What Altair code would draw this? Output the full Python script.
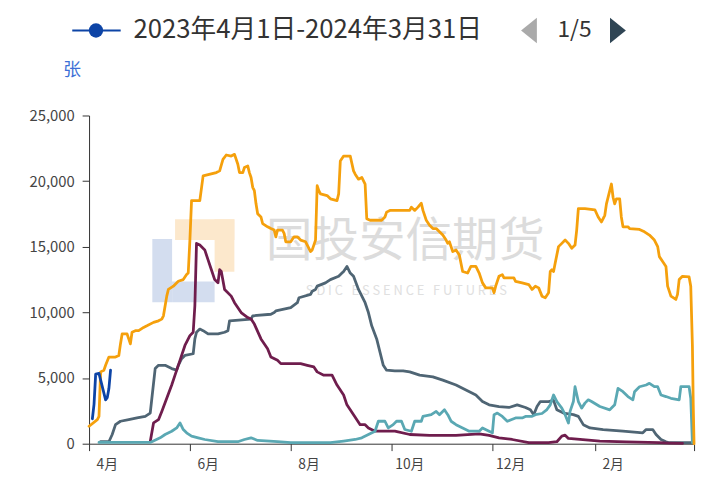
import altair as alt
import pandas as pd

FONT = "Noto Sans CJK SC"

# x axis: days since 1 April
TICK_DAYS = [0, 61, 122, 183, 244, 306, 366]
TICK_LABELS = ["4月", "6月", "8月", "10月", "12月", "2月", ""]
Y_TICKS = [0, 5000, 10000, 15000, 20000, 25000]

SERIES_NAMES = [
    "2023年4月1日-2024年3月31日",
    "2022年4月1日-2023年3月31日",
    "2021年4月1日-2022年3月31日",
    "2020年4月1日-2021年3月31日",
    "2019年4月1日-2020年3月31日",
]
SERIES_COLORS = ["#0d44a6", "#f5a00c", "#4f6574", "#6f1d4d", "#5aa8b3"]

blue_days = [2, 3, 4, 6, 10, 11, 12, 13]
blue_vals = [1900, 3000, 5300, 5350, 3340, 3500, 4200, 5600]

orange_days = [0, 5, 6, 7, 9, 10, 12, 16, 18, 19, 20, 23, 24, 25, 26, 28, 30, 33, 35, 39,
               42, 44, 45, 46, 47, 48, 51, 54, 57, 59, 60, 61, 62, 67, 69, 77, 79, 81, 83, 86,
               88, 90, 91, 93, 94, 96, 97, 98, 99, 100, 101, 102, 104, 105, 108, 110, 112, 113, 114, 117,
               118, 119, 122, 124, 126, 128, 131, 132, 134, 135, 137, 138, 139, 140, 144, 146, 150, 151, 152, 154,
               158, 160, 161, 163, 165, 167, 168, 170, 177, 179, 180, 182, 194, 195, 197, 199, 201, 202, 204, 206,
               208, 210, 212, 214, 216, 217, 218, 219, 220, 222, 224, 226, 229, 231, 234, 236, 238, 240, 244, 245,
               246, 248, 250, 251, 257, 258, 262, 266, 268, 270, 272, 274, 276, 278, 279, 280, 281, 282, 284, 286,
               288, 290, 292, 294, 295, 296, 300, 306, 308, 310, 312, 313, 315, 316, 317, 318, 319, 321, 322, 323,
               326, 327, 333, 336, 339, 342, 344, 345, 347, 349, 350, 352, 355, 356, 357, 359, 363, 364, 365, 365.5,
               366]
orange_vals = [1330, 1830, 2080, 5470, 5600, 5970, 6600, 6600, 6720, 7600, 8360, 8360, 7980, 7600, 8490, 8610, 8610, 8860, 8980, 9240,
               9360, 9490, 9740, 10490, 11240, 11750, 12000, 12370, 12500, 12880, 13000, 15510, 18520, 18520, 20400, 20650, 20780, 21660, 21990, 21910,
               22040, 21290, 20650, 20650, 21040, 21160, 20650, 20280, 19530, 19280, 18270, 17520, 17270, 16770, 16520, 16390, 16270, 15760, 16270, 16270,
               16020, 15380, 15380, 15760, 15760, 15510, 15380, 15130, 14630, 14760, 15510, 19650, 19280, 19030, 18900, 18650, 18520, 19030, 21540, 21910,
               21910, 20780, 20530, 20150, 20280, 19780, 17140, 17020, 17020, 17270, 17640, 17770, 17770, 18020, 17770, 18020, 18320, 17770, 17020, 16640,
               16390, 16390, 16140, 15890, 15510, 15260, 15380, 15010, 14630, 14760, 14380, 13120, 13000, 13500, 13500, 13000, 12250, 11870, 11870, 11500,
               12000, 12750, 12880, 12630, 12630, 12370, 12250, 12120, 11750, 12000, 11870, 11240, 11120, 11500, 13120, 13250, 13120, 13760, 15010, 15260,
               15510, 15260, 14880, 15130, 16270, 17900, 17900, 17820, 17270, 16890, 17400, 18270, 19280, 19780, 18770, 18270, 18650, 18650, 17270, 16520,
               16520, 16390, 16320, 16140, 15890, 15510, 15010, 14250, 13880, 13500, 12000, 11240, 10990, 11370, 12500, 12750, 12700, 12000, 7500, 3000,
               0]

gray_days = [7, 12, 14, 16, 19, 24, 29, 34, 37, 38, 40, 42, 46, 50, 53, 54, 56, 58, 63, 64,
             65, 67, 69, 72, 78, 82, 84, 85, 98, 99, 110, 112, 113, 122, 126, 127, 134, 135, 137, 138,
             143, 146, 151, 153, 154, 156, 158, 160, 163, 167, 169, 171, 174, 176, 178, 180, 185, 190, 194, 200,
             208, 214, 222, 228, 234, 238, 242, 248, 254, 259, 264, 267, 269, 271, 273, 278, 281, 283, 287, 293,
             296, 299, 303, 311, 323, 335, 337, 341, 343, 346, 349, 351, 365]
gray_vals = [150, 150, 700, 1450, 1710, 1830, 1960, 2080, 2330, 3460, 5720, 5970, 5970, 5720, 5600, 5970, 6480, 6720, 6850, 7980,
             8490, 8730, 8610, 8360, 8360, 8490, 8610, 9360, 9490, 9740, 9860, 9990, 10110, 10370, 10740, 11120, 11370, 11620, 11750, 12000,
             12250, 12500, 12750, 13000, 13120, 13500, 13000, 12750, 11750, 10740, 9990, 8980, 7980, 6980, 5970, 5600, 5550, 5550, 5470, 5220,
             5090, 4840, 4470, 4090, 3710, 3210, 2960, 2830, 2760, 2960, 2760, 2580, 2210, 2830, 3210, 3210, 3300, 2580, 2330, 2210,
             2080, 1450, 1200, 1080, 950, 830, 1080, 1080, 700, 320, 150, 75, 75]

maroon_days = [37, 39, 42, 44, 47, 50, 52, 54, 58, 61, 63, 64, 65, 67, 70, 72, 74, 76, 78, 79,
               80, 82, 86, 88, 92, 96, 98, 100, 104, 108, 110, 114, 116, 128, 132, 136, 138, 142, 147, 150,
               154, 156, 160, 164, 167, 169, 173, 185, 194, 206, 222, 236, 242, 248, 256, 266, 278, 283, 286, 288,
               290, 297, 309, 325, 345, 351, 359]
maroon_vals = [150, 1580, 1830, 2460, 3460, 4470, 5220, 5970, 7480, 8230, 8490, 10490, 15260, 15130, 14760, 14000, 13250, 12500, 12250, 13250,
               13120, 11750, 11240, 10740, 9990, 9610, 9490, 9110, 7980, 7230, 6600, 6350, 6100, 6100, 5970, 5850, 5470, 5220, 5220, 4470,
               3710, 2960, 2210, 1450, 1450, 1200, 950, 950, 700, 630, 630, 750, 630, 450, 320, 75, 75, 150, 580, 650,
               400, 320, 200, 130, 75, 50, 20]

teal_days = [6, 37, 43, 46, 50, 53, 55, 57, 59, 62, 66, 70, 78, 90, 94, 98, 102, 114, 122, 146,
             154, 161, 165, 169, 173, 175, 179, 181, 184, 186, 189, 191, 195, 197, 201, 202, 207, 210, 212, 215,
             217, 219, 222, 226, 230, 236, 238, 242, 244, 245, 247, 250, 253, 258, 262, 264, 268, 270, 274, 277,
             279, 281, 283, 286, 288, 290, 291, 293, 294, 296, 298, 300, 302, 304, 309, 315, 318, 320, 323, 326,
             329, 330, 333, 337, 339, 342, 344, 346, 349, 352, 357, 358, 363, 364, 365]
teal_vals = [100, 100, 450, 700, 950, 1200, 1580, 1080, 830, 580, 450, 320, 150, 150, 320, 450, 250, 150, 75, 75,
             200, 320, 450, 700, 950, 1710, 1710, 1200, 1450, 1710, 1710, 1080, 950, 1710, 1710, 2080, 2210, 2460, 2210, 2580,
             2210, 1710, 1450, 1200, 950, 950, 1200, 950, 830, 2210, 2330, 2080, 1710, 1960, 1960, 2080, 2080, 2210, 2300, 2600,
             2960, 3710, 3210, 2710, 2210, 1580, 2460, 3210, 4340, 3210, 2710, 3090, 3340, 3210, 2830, 2580, 2960, 4220, 3960, 3590,
             3340, 3960, 4340, 4470, 4600, 4340, 4340, 3710, 3590, 3460, 3340, 4340, 4340, 3460, 75]

series_data = {
    SERIES_NAMES[0]: (blue_days, blue_vals),
    SERIES_NAMES[1]: (orange_days, orange_vals),
    SERIES_NAMES[2]: (gray_days, gray_vals),
    SERIES_NAMES[3]: (maroon_days, maroon_vals),
    SERIES_NAMES[4]: (teal_days, teal_vals),
}
color_of = dict(zip(SERIES_NAMES, SERIES_COLORS))

label_expr = "[{}][indexof([{}], datum.value)]".format(
    ",".join("'{}'".format(t) for t in TICK_LABELS), ",".join(str(d) for d in TICK_DAYS))

x_enc = alt.X("day:Q", scale=alt.Scale(domain=[0, 366], nice=False, zero=False),
              axis=alt.Axis(values=TICK_DAYS, labelExpr=label_expr, title=None, grid=False,
                            labelOffset=18, labelPadding=7, tickSize=7, labelFlush=False,
                            labelOverlap=False, labelFontSize=14))
y_enc = alt.Y("value:Q", scale=alt.Scale(domain=[0, 25000], nice=False),
              axis=alt.Axis(values=Y_TICKS, format=",.0f", title=None, grid=False,
                            tickSize=7, labelPadding=8, labelFontSize=15))

def line_layer(name):
    days, vals = series_data[name]
    df = pd.DataFrame({"day": days, "value": vals, "series": name})
    return alt.Chart(df).mark_line(strokeWidth=2.8, strokeJoin="round", strokeCap="round",
                                   color=color_of[name]).encode(x=x_enc, y=y_enc)

one = pd.DataFrame({"t": [""]})

def text_layer(text, x, y, size, color, align="center", weight="normal"):
    return alt.Chart(pd.DataFrame({"t": [text]})).mark_text(
        font=FONT, fontSize=size, color=color, align=align, baseline="middle",
        fontWeight=weight).encode(x=alt.value(x), y=alt.value(y), text="t:N")

def rect_layer(x, x2, y, y2, color):
    return alt.Chart(one).mark_rect(color=color).encode(
        x=alt.value(x), x2=alt.value(x2), y=alt.value(y), y2=alt.value(y2))

NB = "\u00a0"
sdic = (NB * 3).join(NB.join(w) for w in ["SDIC", "ESSENCE", "FUTURES"])

# watermark (background)
deco = [
    rect_layer(64, 84, 125, 189, "#d3ddef"),
    rect_layer(84, 127, 168, 189, "#d3ddef"),
    rect_layer(87, 147, 105, 126, "#fce8cc"),
    rect_layer(127, 147, 105, 158, "#fce8cc"),
    text_layer("国投安信期货", 320, 128, 47, "#dcdcdc"),
    text_layer(sdic, 321, 178, 13, "#e0e0e0"),
]

lines = [line_layer(n) for n in [SERIES_NAMES[2], SERIES_NAMES[3], SERIES_NAMES[4],
                                 SERIES_NAMES[1], SERIES_NAMES[0]]]

legend = [
    alt.Chart(one).mark_rule(color=SERIES_COLORS[0], strokeWidth=2).encode(
        x=alt.value(-17), x2=alt.value(32), y=alt.value(-86)),
    alt.Chart(one).mark_point(shape="circle", filled=True, size=210, opacity=1,
                              color=SERIES_COLORS[0]).encode(x=alt.value(7), y=alt.value(-86)),
    text_layer(SERIES_NAMES[0], 45, -86, 26, "#333333", align="left"),
    alt.Chart(one).mark_point(shape="M1,-1.6L1,1.6L-1,0Z", filled=True, size=256, opacity=1,
                              color="#aaaaaa").encode(x=alt.value(445), y=alt.value(-86)),
    text_layer("1/5", 491, -86, 23, "#333333"),
    alt.Chart(one).mark_point(shape="M-1,-1.6L-1,1.6L1,0Z", filled=True, size=256, opacity=1,
                              color="#2f4554").encode(x=alt.value(535), y=alt.value(-86)),
    text_layer("张", -17, -45, 18, "#3d6fd6"),
]

chart = alt.layer(*deco, *lines, *legend).properties(
    width=612, height=332,
    autosize=alt.AutoSizeParams(type="none"),
    padding={"left": 82, "top": 106, "right": 5, "bottom": 35},
).configure_view(stroke=None).configure_axis(
    domainColor="#333333", tickColor="#333333", labelColor="#444444",
    labelFont=FONT, labelFontSize=14, domainWidth=1, tickWidth=1,
)

chart.save("out.html", embed_options={"renderer": "svg", "actions": False})
